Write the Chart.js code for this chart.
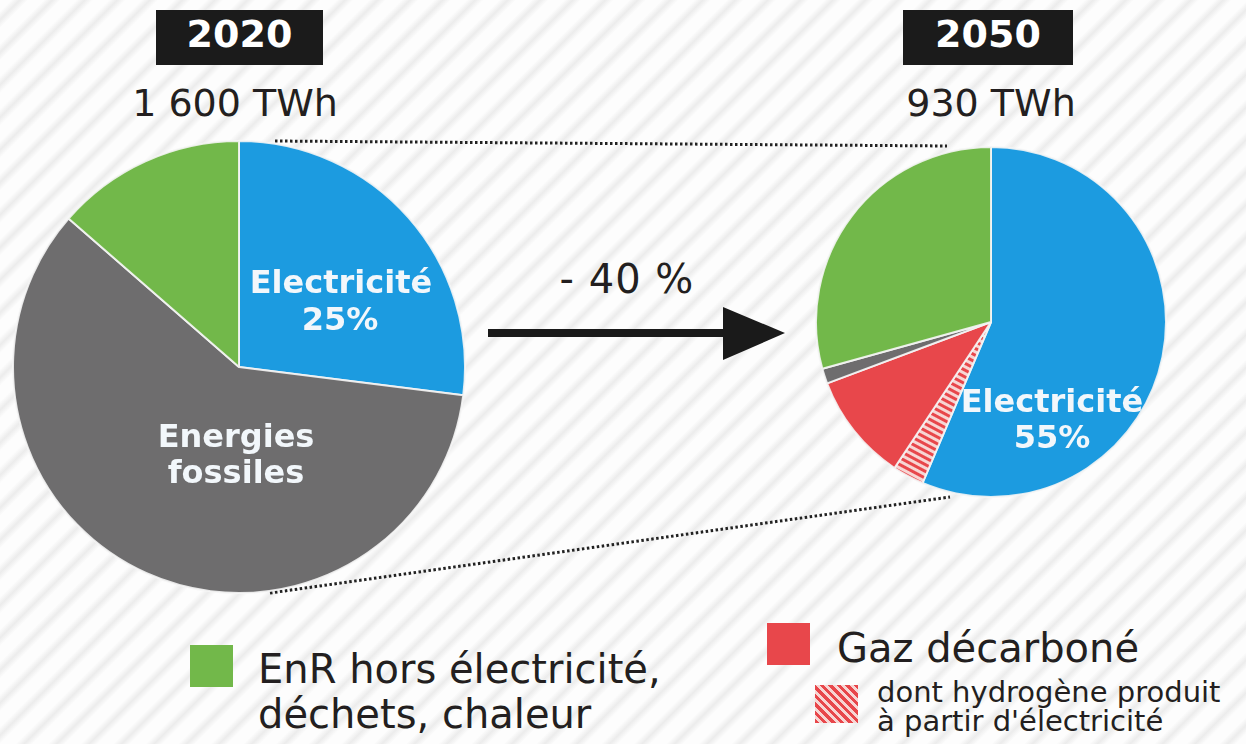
<!DOCTYPE html>
<html><head><meta charset="utf-8">
<script src="https://cdn.jsdelivr.net/npm/chart.js@4/dist/chart.umd.min.js"></script>
<style>
html,body{margin:0;padding:0;}
body{width:1246px;height:744px;overflow:hidden;position:relative;font-family:"DejaVu Sans",sans-serif;
background:repeating-linear-gradient(135deg,#fdfdfd 0px,#fdfdfd 8px,#ececec 14px,#fdfdfd 20px,#fdfdfd 23px);}
.t{position:absolute;white-space:nowrap;line-height:1.2;}
canvas{position:absolute;}
svg{position:absolute;left:0;top:0;}
.sq{position:absolute;}
</style></head><body>
<svg width="1246" height="744">
  <line x1="275" y1="141" x2="947" y2="146" stroke="#222" stroke-width="3" stroke-dasharray="2.5 2.5"/>
  <line x1="270" y1="593" x2="950" y2="497" stroke="#222" stroke-width="3" stroke-dasharray="2.5 2.5"/>
  <line x1="488" y1="333" x2="735" y2="333" stroke="#1a1a1a" stroke-width="8"/>
  <polygon points="723,307 785,333 723,360" fill="#1a1a1a"/>
</svg>
<canvas id="c2020" width="454" height="454" style="left:12px;top:140px"></canvas>
<canvas id="c2050" width="352" height="352" style="left:815px;top:146px"></canvas>
<script>
// ---- data ----
const years = ['2020', '2050'];
const totals = ['1 600 TWh', '930 TWh'];
const change = '- 40 %';
const categories2020 = ['Electricité', 'Energies fossiles', 'EnR hors électricité, déchets, chaleur'];
const values2020 = [27, 59.4, 13.6];
const categories2050 = ['Electricité', "dont hydrogène produit à partir d'électricité", 'Gaz décarboné', 'Energies fossiles', 'EnR hors électricité, déchets, chaleur'];
const values2050 = [56.4, 2.9, 10.0, 1.4, 29.3];
const sliceLabels2020 = [['Electricité', '25%'], ['Energies', 'fossiles']];
const sliceLabels2050 = [['Electricité', '55%']];
const legendLabels = [['EnR hors électricité,', 'déchets, chaleur'], ['Gaz décarboné'], ['dont hydrogène produit', "à partir d'électricité"]];

// ---- styles ----
const BLUE = '#1c9be0', GRAY = '#6e6d6e', GREEN = '#72b84a', RED = '#e8474b', INK = '#231f20';

function hatchPattern(angle) {
  const c = document.createElement('canvas');
  c.width = 6; c.height = 6;
  const g = c.getContext('2d');
  g.fillStyle = '#f7d6d4'; g.fillRect(0, 0, 6, 6);
  g.fillStyle = RED; g.fillRect(0, 0, 6, 3);
  const p = document.createElement('canvas').getContext('2d').createPattern(c, 'repeat');
  if (p.setTransform) p.setTransform(new DOMMatrix().rotate(angle));
  return p;
}
const colorOf = {
  'Electricité': BLUE, 'Energies fossiles': GRAY, 'EnR hors électricité, déchets, chaleur': GREEN,
  'Gaz décarboné': RED
};

function pie(id, labels, values) {
  return new Chart(document.getElementById(id), {
    type: 'pie',
    data: { labels, datasets: [{
      data: values,
      backgroundColor: labels.map(l => colorOf[l] || hatchPattern(28)),
      borderColor: 'rgba(245,245,245,0.9)', borderWidth: 2, hoverOffset: 0, offset: 0
    }]},
    options: {
      responsive: false, animation: false, events: [],
      layout: { padding: 0 },
      plugins: { legend: { display: false }, tooltip: { enabled: false } }
    }
  });
}
pie('c2020', categories2020, values2020);
pie('c2050', categories2050, values2050);

// ---- text (baseline-positioned, DejaVu metrics) ----
function txt(s, x, baseline, fs, opts = {}) {
  const d = document.createElement('div');
  d.className = 't';
  d.textContent = s;
  d.style.fontSize = fs + 'px';
  d.style.fontWeight = opts.weight || 400;
  d.style.color = opts.color || INK;
  d.style.top = (baseline - 0.946 * fs) + 'px';
  d.style.left = x + 'px';
  if (opts.center) d.style.transform = 'translateX(-50%)';
  if (opts.ls) d.style.letterSpacing = opts.ls + 'px';
  document.body.appendChild(d);
}
function box(x, y, w, h, bg) {
  const d = document.createElement('div');
  d.className = 'sq';
  Object.assign(d.style, { left: x + 'px', top: y + 'px', width: w + 'px', height: h + 'px', background: bg });
  document.body.appendChild(d);
}
// title boxes
box(156, 10, 167, 55, '#1b1b1b');
box(903, 10, 170, 55, '#1b1b1b');
txt(years[0], 239.5, 48, 38, { weight: 700, color: '#fff', center: true });
txt(years[1], 988, 48, 38, { weight: 700, color: '#fff', center: true });
txt(totals[0], 235, 117, 38, { center: true });
txt(totals[1], 991, 117, 38, { center: true });
txt(change, 627, 293, 40, { center: true, ls: 1 });

// slice labels
const W = '#f2f7fb';
txt(sliceLabels2020[0][0], 341, 293, 32, { weight: 700, color: W, center: true });
txt(sliceLabels2020[0][1], 340, 330, 32, { weight: 700, color: W, center: true });
txt(sliceLabels2020[1][0], 236, 447, 32, { weight: 700, color: W, center: true });
txt(sliceLabels2020[1][1], 236, 483, 32, { weight: 700, color: W, center: true });
txt(sliceLabels2050[0][0], 1052, 412, 32, { weight: 700, color: W, center: true });
txt(sliceLabels2050[0][1], 1052, 448, 32, { weight: 700, color: W, center: true });

// legend
box(190, 645, 43, 42, GREEN);
txt(legendLabels[0][0], 258, 683, 40);
txt(legendLabels[0][1], 258, 728, 40);
box(767, 623, 43, 42, RED);
txt(legendLabels[1][0], 837, 662, 40);
box(815, 685, 43, 38, 'repeating-linear-gradient(45deg,' + RED + ' 0 3px,#f7d6d4 3px 6px)');
txt(legendLabels[2][0], 877, 702, 29);
txt(legendLabels[2][1], 877, 731, 29);
</script>
</body></html>
